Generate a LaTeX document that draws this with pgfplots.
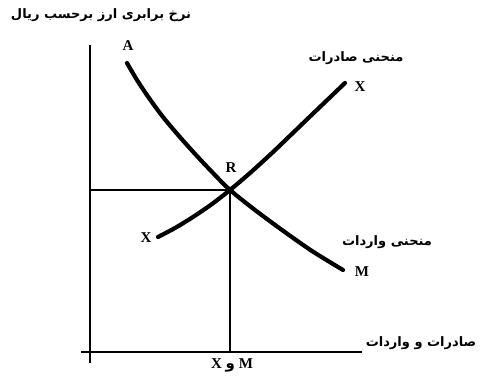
\documentclass[border=0pt]{standalone}
\usepackage{pgfplots}
\pgfplotsset{compat=1.18}
\usepackage{fontspec}
\setmainfont{Liberation Serif}
\newfontfamily\arabicfont[Script=Arabic]{DejaVu Sans}
\TeXXeTstate=1
\begin{document}
\begin{tikzpicture}
\begin{axis}[
  width=485pt, height=378pt, scale only axis,
  xmin=0, xmax=485, ymin=0, ymax=378,
  hide axis, clip=false,
]
\path (axis cs:0,0) rectangle (axis cs:485,378);
% axes
\addplot[black, line width=1.8pt] coordinates {(90,333) (90,15)};
\addplot[black, line width=1.5pt] coordinates {(81,26) (362,26)};
% guide lines
\addplot[black, line width=1.1pt] coordinates {(90,188) (230,188)};
\addplot[black, line width=1.4pt] coordinates {(230,188) (230,26)};
% import curve (A-M)
\addplot[black, line width=4.2pt, smooth, line cap=round] coordinates {
(127,315) (137,298) (149,280) (163,261) (179,242) (196,223) (213,205) (230,188)
(255,168) (282,148) (312,127) (343,108)};
% export curve (X-X)
\addplot[black, line width=4.2pt, smooth, line cap=round] coordinates {
(158,141) (175,150) (193,161) (212,174) (230,188) (250,205) (272,225) (297,249) (322,273) (345,295)};
% labels
\node[font=\bfseries\fontsize{15}{17}\selectfont] at (axis cs:128,332) {A};
\node[font=\bfseries\fontsize{15}{17}\selectfont] at (axis cs:231,210) {R};
\node[font=\bfseries\fontsize{15}{17}\selectfont] at (axis cs:146,140) {X};
\node[font=\bfseries\fontsize{15}{17}\selectfont] at (axis cs:360,291) {X};
\node[font=\bfseries\fontsize{15}{17}\selectfont] at (axis cs:362,106) {M};
\node[font=\bfseries\fontsize{15}{17}\selectfont] at (axis cs:232,13) {X {\arabicfont و} M};
\node[font=\arabicfont\bfseries\fontsize{13}{15}\selectfont] at (axis cs:101,363) {\beginR نرخ برابری ارز برحسب ریال\endR};
\node[font=\arabicfont\bfseries\fontsize{13}{15}\selectfont] at (axis cs:356,320) {\beginR منحنی صادرات\endR};
\node[font=\arabicfont\bfseries\fontsize{13}{15}\selectfont] at (axis cs:387,136) {\beginR منحنی واردات\endR};
\node[font=\arabicfont\bfseries\fontsize{13}{15}\selectfont] at (axis cs:421,35) {\beginR صادرات و واردات\endR};
\end{axis}
\end{tikzpicture}
\end{document}
